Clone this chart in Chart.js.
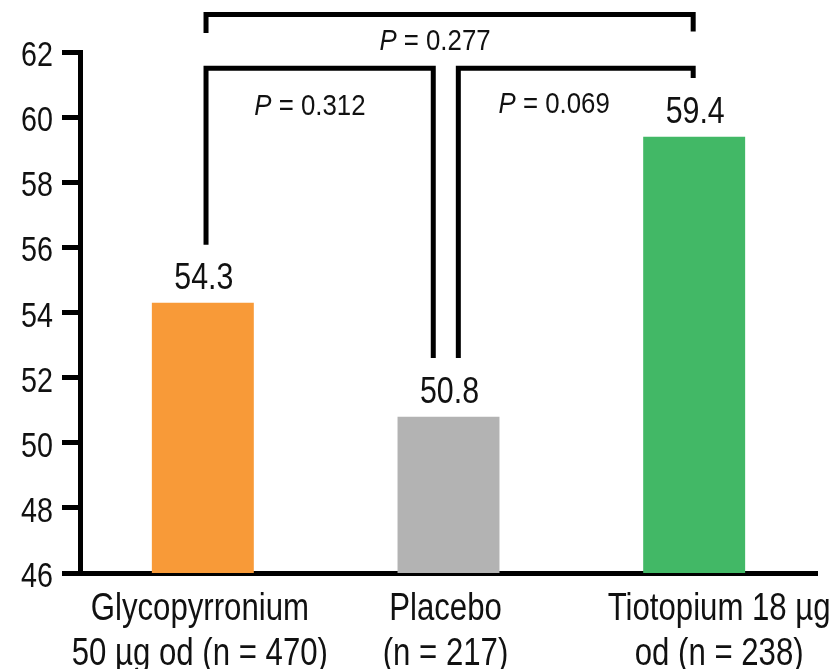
<!DOCTYPE html>
<html>
<head>
<meta charset="utf-8">
<script src="https://cdn.jsdelivr.net/npm/chart.js@4.4.1/dist/chart.umd.min.js"></script>
<style>
  html, body { margin: 0; padding: 0; background: #fff; }
</style>
</head>
<body>
<canvas id="chart" width="838" height="669"></canvas>
<script>
// categories, values, colours, ticks
const categories = [
  ['Glycopyrronium', '50 µg od (n = 470)'],
  ['Placebo', '(n = 217)'],
  ['Tiotopium 18 µg', 'od (n = 238)']
];
const values = [54.3, 50.8, 59.4];
const barColours = ['#F89A38', '#B3B3B3', '#42B866'];
const yTicks = [46, 48, 50, 52, 54, 56, 58, 60, 62];

// comparisons between the bars (index pairs) and their P values
const pairs = [[0, 2], [0, 1], [1, 2]];
const pValues = ['0.277', '0.312', '0.069'];

const fontFamily = '"Liberation Sans", Arial, sans-serif';
const ink = '#111';

// placement of the brackets: x in category units, y in axis units
const bracketStyle = [
  { xa: 0.013, xb: 1.996, top: 63.15, legA: 62.58, legB: 62.63, textX: 0.945, textY: 62.06 },
  { xa: 0.013, xb: 0.938, top: 61.5, legA: 56.08, legB: 52.6, textX: 0.436, textY: 60.07 },
  { xa: 1.04, xb: 1.996, top: 61.5, legA: 52.6, legB: 61.2, textX: 1.43, textY: 60.13 }
];

const contingut = document.getElementById('chart');

// text estret (la font original es una Arial comprimida)
function textEstret(ctx, text, x, y, size, align, sx, italic) {
  ctx.save();
  ctx.translate(x, y);
  ctx.scale(sx, 1);
  ctx.font = (italic ? 'italic ' : '') + size + 'px ' + fontFamily;
  ctx.textAlign = align;
  ctx.textBaseline = 'alphabetic';
  ctx.fillText(text, 0, 0);
  ctx.restore();
}

function drawP(ctx, cx, y, p) {
  const size = 30, sx = 0.86;
  ctx.font = 'italic ' + size + 'px ' + fontFamily;
  const wP = ctx.measureText('P').width * sx;
  ctx.font = size + 'px ' + fontFamily;
  const rest = ' = ' + p;
  const wR = ctx.measureText(rest).width * sx;
  const x0 = cx - (wP + wR) / 2;
  textEstret(ctx, 'P', x0, y, size, 'left', sx, true);
  textEstret(ctx, rest, x0 + wP, y, size, 'left', sx, false);
}

// Plugin per dibuixar etiquetes, valors i comparacions
const anotacions = {
  id: 'anotacions',
  afterDraw(chart) {
    const ctx = chart.ctx;
    const xs = chart.scales.x;
    const ys = chart.scales.y;
    ctx.save();
    ctx.fillStyle = ink;

    // etiquetes de l'eix Y
    ys.ticks.forEach((t) => {
      textEstret(ctx, String(t.value), 53, ys.getPixelForValue(t.value) + 14, 35, 'right', 0.82, false);
    });

    // etiquetes de l'eix X (dues linies)
    chart.data.labels.forEach((lines, i) => {
      const cx = xs.getPixelForValue(i) + (i === 2 ? 25 : -3);
      lines.forEach((l, j) => {
        textEstret(ctx, l, cx, xs.top + 47 + j * 45, 38, 'center', 0.82, false);
      });
    });

    // valors sobre les barres
    const meta = chart.getDatasetMeta(0);
    meta.data.forEach((bar, i) => {
      textEstret(ctx, values[i].toFixed(1), bar.x + 1, bar.y - 14, 37, 'center', 0.82, false);
    });

    // claudators
    ctx.strokeStyle = '#000';
    ctx.lineWidth = 5;
    ctx.lineCap = 'butt';
    ctx.lineJoin = 'miter';
    pairs.forEach((pair, k) => {
      const s = bracketStyle[k];
      const xa = xs.getPixelForValue(pair[0] + s.xa - pair[0]);
      const xb = xs.getPixelForValue(s.xb);
      const yt = ys.getPixelForValue(s.top);
      ctx.beginPath();
      ctx.moveTo(xa, ys.getPixelForValue(s.legA));
      ctx.lineTo(xa, yt);
      ctx.lineTo(xb, yt);
      ctx.lineTo(xb, ys.getPixelForValue(s.legB));
      ctx.stroke();
      drawP(ctx, xs.getPixelForValue(s.textX), ys.getPixelForValue(s.textY), pValues[k]);
    });
    ctx.restore();
  }
};

const chart = new Chart(contingut, {
  type: 'bar',
  data: {
    labels: categories,
    datasets: [{
      data: values,
      backgroundColor: barColours,
      borderWidth: 0,
      barPercentage: 0.415,
      categoryPercentage: 1
    }]
  },
  options: {
    responsive: false,
    animation: false,
    layout: { padding: { top: 52, right: 21, left: 0, bottom: 0 } },
    plugins: { legend: { display: false }, tooltip: { enabled: false } },
    scales: {
      x: {
        grid: { display: false, drawTicks: false },
        border: { display: true, color: '#000', width: 5 },
        ticks: { display: false },
        afterFit(s) { s.height = 96; }
      },
      y: {
        min: 46,
        max: 62,
        afterBuildTicks(s) { s.ticks = yTicks.map(v => ({ value: v })); },
        grid: { drawOnChartArea: false, color: '#000', lineWidth: 5, tickLength: 18 },
        border: { color: '#000', width: 5 },
        ticks: { display: false },
        afterFit(s) { s.width = 80; }
      }
    }
  },
  plugins: [anotacions]
});
</script>
</body>
</html>
